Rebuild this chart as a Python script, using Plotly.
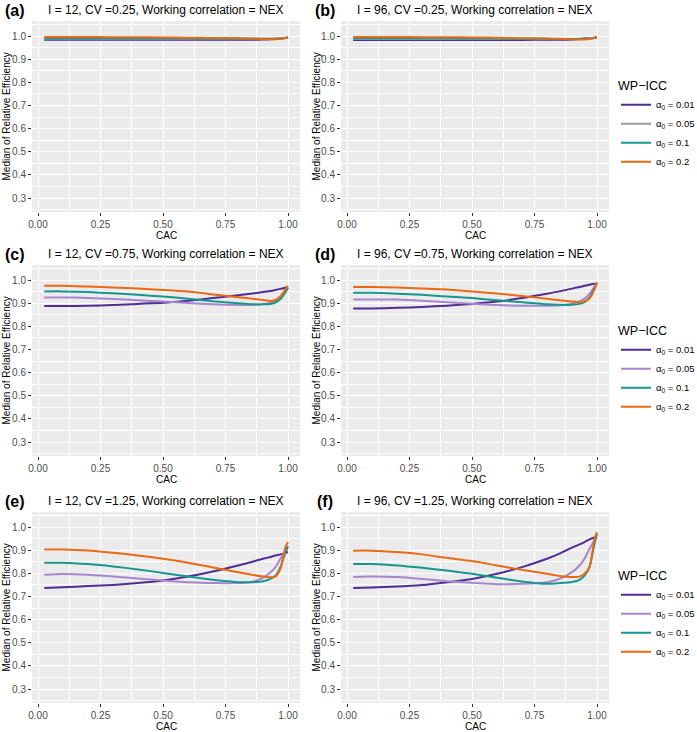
import plotly.graph_objects as go

# ---------------- data ----------------
cac = [0.025, 0.1, 0.2, 0.3, 0.4, 0.5, 0.6, 0.7, 0.8, 0.85, 0.9, 0.93, 0.95, 0.97, 0.99, 1.0]

icc_labels = ["0.01", "0.05", "0.1", "0.2"]

panel_letters = ["(a)", "(b)", "(c)", "(d)", "(e)", "(f)"]
panel_titles = [
    "I = 12, CV =0.25, Working correlation = NEX",
    "I = 96, CV =0.25, Working correlation = NEX",
    "I = 12, CV =0.75, Working correlation = NEX",
    "I = 96, CV =0.75, Working correlation = NEX",
    "I = 12, CV =1.25, Working correlation = NEX",
    "I = 96, CV =1.25, Working correlation = NEX",
]

# panel (a)
a_001 = [0.984, 0.984, 0.984, 0.984, 0.984, 0.984, 0.984, 0.984, 0.984, 0.984, 0.985, 0.986, 0.987, 0.989, 0.992, 0.993]
a_005 = [0.988, 0.988, 0.988, 0.988, 0.988, 0.988, 0.988, 0.988, 0.988, 0.988, 0.988, 0.988, 0.989, 0.990, 0.992, 0.993]
a_01 = [0.991, 0.991, 0.991, 0.991, 0.990, 0.990, 0.990, 0.989, 0.989, 0.988, 0.988, 0.988, 0.988, 0.989, 0.992, 0.994]
a_02 = [0.996, 0.996, 0.996, 0.995, 0.995, 0.994, 0.993, 0.992, 0.990, 0.989, 0.987, 0.986, 0.986, 0.988, 0.993, 0.995]
# panel (b)
b_001 = [0.983, 0.983, 0.983, 0.983, 0.983, 0.983, 0.983, 0.983, 0.984, 0.984, 0.985, 0.987, 0.989, 0.991, 0.993, 0.994]
b_005 = [0.987, 0.987, 0.987, 0.987, 0.987, 0.987, 0.987, 0.987, 0.987, 0.987, 0.987, 0.988, 0.989, 0.991, 0.993, 0.994]
b_01 = [0.990, 0.990, 0.990, 0.990, 0.990, 0.989, 0.989, 0.988, 0.988, 0.987, 0.987, 0.987, 0.988, 0.989, 0.992, 0.995]
b_02 = [0.996, 0.996, 0.996, 0.995, 0.995, 0.994, 0.993, 0.991, 0.989, 0.988, 0.986, 0.985, 0.985, 0.987, 0.993, 0.996]
# panel (c)
c_001 = [0.888, 0.888, 0.889, 0.892, 0.897, 0.902, 0.911, 0.922, 0.934, 0.941, 0.948, 0.953, 0.957, 0.962, 0.967, 0.970]
c_005 = [0.925, 0.925, 0.923, 0.918, 0.913, 0.907, 0.901, 0.895, 0.892, 0.892, 0.896, 0.902, 0.912, 0.930, 0.955, 0.966]
c_01 = [0.951, 0.951, 0.948, 0.943, 0.936, 0.929, 0.919, 0.908, 0.900, 0.896, 0.895, 0.897, 0.903, 0.918, 0.948, 0.966]
c_02 = [0.975, 0.975, 0.972, 0.968, 0.963, 0.957, 0.950, 0.938, 0.926, 0.920, 0.914, 0.910, 0.914, 0.930, 0.960, 0.975]
# panel (d)
d_001 = [0.877, 0.877, 0.880, 0.884, 0.889, 0.897, 0.907, 0.922, 0.941, 0.951, 0.963, 0.970, 0.975, 0.980, 0.984, 0.985]
d_005 = [0.916, 0.916, 0.916, 0.911, 0.904, 0.898, 0.892, 0.889, 0.889, 0.891, 0.898, 0.908, 0.920, 0.940, 0.972, 0.985]
d_01 = [0.945, 0.945, 0.941, 0.936, 0.929, 0.922, 0.913, 0.904, 0.895, 0.893, 0.893, 0.897, 0.905, 0.925, 0.965, 0.988]
d_02 = [0.970, 0.970, 0.968, 0.964, 0.959, 0.951, 0.942, 0.931, 0.919, 0.913, 0.907, 0.905, 0.908, 0.920, 0.960, 0.990]
# panel (e)
e_001 = [0.737, 0.740, 0.745, 0.750, 0.758, 0.769, 0.786, 0.808, 0.834, 0.848, 0.863, 0.871, 0.877, 0.882, 0.888, 0.892]
e_005 = [0.794, 0.797, 0.794, 0.786, 0.778, 0.769, 0.762, 0.758, 0.758, 0.762, 0.781, 0.805, 0.827, 0.863, 0.899, 0.916]
e_01 = [0.846, 0.846, 0.840, 0.830, 0.817, 0.802, 0.786, 0.772, 0.762, 0.762, 0.766, 0.776, 0.790, 0.827, 0.892, 0.916]
e_02 = [0.903, 0.903, 0.899, 0.889, 0.877, 0.863, 0.846, 0.825, 0.805, 0.795, 0.786, 0.783, 0.786, 0.820, 0.913, 0.935]
# panel (f)
f_001 = [0.737, 0.739, 0.743, 0.750, 0.762, 0.776, 0.798, 0.827, 0.863, 0.885, 0.911, 0.925, 0.935, 0.947, 0.955, 0.957]
f_005 = [0.784, 0.786, 0.784, 0.776, 0.766, 0.759, 0.753, 0.755, 0.762, 0.776, 0.805, 0.834, 0.863, 0.906, 0.942, 0.957]
f_01 = [0.840, 0.840, 0.834, 0.824, 0.812, 0.798, 0.781, 0.765, 0.755, 0.758, 0.763, 0.772, 0.790, 0.827, 0.928, 0.971]
f_02 = [0.898, 0.898, 0.892, 0.882, 0.867, 0.853, 0.834, 0.815, 0.798, 0.789, 0.784, 0.786, 0.798, 0.827, 0.950, 0.978]

panels = [
    [a_001, a_005, a_01, a_02],
    [b_001, b_005, b_01, b_02],
    [c_001, c_005, c_01, c_02],
    [d_001, d_005, d_01, d_02],
    [e_001, e_005, e_01, e_02],
    [f_001, f_005, f_01, f_02],
]

x_ticks = [0.0, 0.25, 0.5, 0.75, 1.0]
x_ticktext = ["0.00", "0.25", "0.50", "0.75", "1.00"]
y_ticks = [0.3, 0.4, 0.5, 0.6, 0.7, 0.8, 0.9, 1.0]
y_ticktext = ["0.3", "0.4", "0.5", "0.6", "0.7", "0.8", "0.9", "1.0"]

# ---------------- styling ----------------
W, H = 697, 732
FONT = "Liberation Sans, Arial, Helvetica, sans-serif"
colors_row1 = ["#4F2D91", "#9A9A9A", "#17968F", "#EA6A13"]
colors_rows = ["#4F2D91", "#A786CE", "#17968F", "#EA6A13"]

col_px = [(32, 300), (341, 609)]
row_px = [(21, 212), (265, 456), (512, 703)]


def px_x(p):
    return p / W


def px_y(p):
    return 1 - p / H


fig = go.Figure()
layout_axes = {}
annotations = []

for i in range(6):
    r, c = divmod(i, 2)
    n = i + 1
    xa = "xaxis" if n == 1 else f"xaxis{n}"
    ya = "yaxis" if n == 1 else f"yaxis{n}"
    xref = "x" if n == 1 else f"x{n}"
    yref = "y" if n == 1 else f"y{n}"
    legend_name = ["legend", "legend2", "legend3"][r]
    cols = colors_row1 if r == 0 else colors_rows
    for k, series in enumerate(panels[i]):
        fig.add_trace(go.Scatter(
            x=cac, y=series, mode="lines",
            line=dict(color=cols[k], width=2, shape="spline", smoothing=0.6),
            name=f"α<sub>0</sub> = {icc_labels[k]}",
            xaxis=xref, yaxis=yref,
            legend=legend_name,
            showlegend=(c == 0),
        ))
    x0, x1 = col_px[c]
    y0, y1 = row_px[r]
    layout_axes[xa] = dict(
        domain=[px_x(x0), px_x(x1)], anchor=yref, range=[-0.024, 1.048],
        tickvals=x_ticks, ticktext=x_ticktext,
        showgrid=True, gridcolor="white", gridwidth=1.1,
        minor=dict(dtick=0.125, tick0=0, showgrid=True, gridcolor="white", gridwidth=0.5, ticks=""),
        ticks="outside", ticklen=3, tickcolor="#333333", tickwidth=1,
        tickfont=dict(family=FONT, size=10, color="#4D4D4D"),
        zeroline=False, showline=False, fixedrange=True, automargin=False,
    )
    layout_axes[ya] = dict(
        domain=[px_y(y1), px_y(y0)], anchor=xref, range=[0.24, 1.065],
        tickvals=y_ticks, ticktext=y_ticktext,
        showgrid=True, gridcolor="white", gridwidth=1.1,
        minor=dict(dtick=0.05, tick0=0, showgrid=True, gridcolor="white", gridwidth=0.5, ticks=""),
        ticks="outside", ticklen=3, tickcolor="#333333", tickwidth=1,
        tickfont=dict(family=FONT, size=10, color="#4D4D4D"),
        zeroline=False, showline=False, fixedrange=True, automargin=False,
    )
    # panel title
    annotations.append(dict(
        text=panel_titles[i], xref="paper", yref="paper",
        x=px_x((x0 + x1) / 2), y=px_y(y0 - 11), xanchor="center", yanchor="middle",
        showarrow=False, font=dict(family=FONT, size=12, color="black"),
    ))
    # panel letter
    annotations.append(dict(
        text=f"<b>{panel_letters[i]}</b>", xref="paper", yref="paper",
        x=px_x(x0 - 17 if c == 0 else x0 - 16), y=px_y(y0 - 11), xanchor="center", yanchor="middle",
        showarrow=False, font=dict(family=FONT, size=16, color="black"),
    ))
    # x axis title
    annotations.append(dict(
        text="CAC", xref="paper", yref="paper",
        x=px_x((x0 + x1) / 2), y=px_y(y1 + 23), xanchor="center", yanchor="middle",
        showarrow=False, font=dict(family=FONT, size=10, color="black"),
    ))
    # y axis title
    annotations.append(dict(
        text="Median of Relative Efficiency", xref="paper", yref="paper",
        x=px_x(6 if c == 0 else 316), y=px_y((y0 + y1) / 2), xanchor="center", yanchor="middle",
        textangle=-90, showarrow=False, font=dict(family=FONT, size=10, color="black"),
    ))

legend_common = dict(
    xanchor="left", yanchor="top", bgcolor="rgba(0,0,0,0)",
    font=dict(family=FONT, size=9.5, color="black"),
    title=dict(text="WP\u2212ICC", font=dict(family=FONT, size=12.5, color="black")),
    itemclick=False, itemdoubleclick=False, tracegroupgap=0,
)
legend_tops = [74, 319, 564]
LEG_X = 616

fig.update_layout(
    width=W, height=H,
    margin=dict(l=0, r=0, t=0, b=0, autoexpand=False),
    paper_bgcolor="white", plot_bgcolor="#EBEBEB",
    font=dict(family=FONT),
    annotations=annotations,
    legend=dict(x=px_x(LEG_X), y=px_y(legend_tops[0]), **legend_common),
    legend2=dict(x=px_x(LEG_X), y=px_y(legend_tops[1]), **legend_common),
    legend3=dict(x=px_x(LEG_X), y=px_y(legend_tops[2]), **legend_common),
    **layout_axes,
)

fig.write_html(
    "out.html",
    config={"displayModeBar": False},
    post_script="document.body.style.margin='0';",
)
